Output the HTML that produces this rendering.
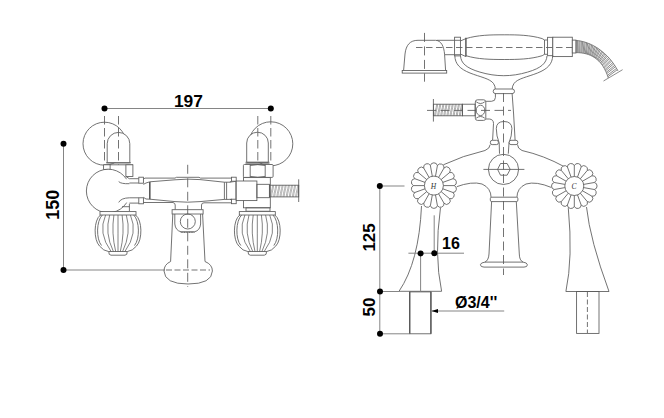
<!DOCTYPE html>
<html><head><meta charset="utf-8">
<style>
html,body{margin:0;padding:0;background:#fff;width:664px;height:418px;overflow:hidden}
svg{display:block}
text{font-family:"Liberation Sans",sans-serif;font-weight:bold;fill:#000}
</style></head><body>
<svg width="664" height="418" viewBox="0 0 664 418">
<defs>
<g id="dot"><circle r="3" fill="#000"/></g>
</defs>
<!-- ================= LEFT DRAWING ================= -->
<g id="left" fill="none" stroke="#5a5a5a" stroke-width="0.85">
  <!-- dimension 197 -->
  <line x1="104.5" y1="108.5" x2="270.8" y2="108.5" stroke="#858585" stroke-width="1"/>
  <!-- dimension 150 -->
  <line x1="63.5" y1="143.8" x2="63.5" y2="270" stroke="#858585" stroke-width="1"/>
  <line x1="63.5" y1="270" x2="165" y2="270" stroke="#858585" stroke-width="1"/>
  <!-- upper big circles -->
  <circle cx="104.5" cy="143.7" r="21.5"/>
  <circle cx="270.8" cy="143.8" r="22"/>
  <!-- domes -->
  <path d="M107.2,162.8 V143.7 A11.3,11.3 0 0 1 129.8,143.7 V162.8 Z" fill="#fff"/>
  <path d="M246.7,162.3 V143 A10.8,10.8 0 0 1 268.3,143 V162.3 Z" fill="#fff"/>
  <path d="M106,162.8 H131 M105,164.8 H133 M245.5,162.3 H269.5 M245.5,163.8 H269.5"/>
  <!-- nuts -->
  <rect x="103.6" y="164.8" width="6.5" height="4.6" fill="#fff"/>
  <rect x="125.9" y="164.8" width="7" height="11.7" fill="#fff"/>
  <rect x="243.4" y="164.5" width="29.7" height="12.9" rx="1" fill="#fff"/>
  <path d="M250.2,164.5 V177.4 M265.2,164.5 V177.4 M250.2,165.5 Q257.7,163.8 265.2,165.5 M250.2,176.4 Q257.7,178.1 265.2,176.4"/>
  <!-- dashed verticals -->
  <g stroke-dasharray="8.5 3.5">
    <line x1="104.5" y1="116" x2="104.5" y2="164.5"/>
    <line x1="118.5" y1="116" x2="118.5" y2="164.5"/>
    <line x1="257.8" y1="116" x2="257.8" y2="164.5"/>
    <line x1="270.8" y1="116" x2="270.8" y2="164.5"/>
  </g>
  <!-- left ball -->
  <circle cx="108.2" cy="191" r="21.8" fill="#fff"/>
  <rect x="125" y="179.2" width="6" height="23.4" fill="#fff" stroke="none"/>
  <!-- pipe connectors left -->
  <path d="M125.9,176.5 L129.4,178.7 H138.8 M129.4,183 H138.8" />
  <path d="M118.7,181.6 Q121,184 129.4,183.7" />
  <path d="M118.7,202.4 Q121,198 129.4,197.8 H138.8 M129.4,203.1 H138.8" />
  <path d="M129.4,203.8 V211 M122,206.7 H129.4"/>
  <rect x="138.8" y="177.2" width="4.6" height="6" fill="#fff"/>
  <rect x="138.8" y="197.8" width="4.6" height="6" fill="#fff"/>
  <!-- body -->
  <path d="M143.4,179.1 L145,178.1 H175 L176.5,177.3 H199 L200.5,178.1 H231.5"/>
  <path d="M143.4,184.4 L146,183 L149.8,181.8 L175,179.8 Q188,178.6 200,179.6 L224.4,182.2 H229.6 L231.6,181.2 M229.6,182.2 L236,181.3"/>
  <path d="M143.4,197.3 L146,199 L149.8,199.2 L175,201.6 Q188,202.8 200,201.6 L224.4,199.4 H229.6 L231.6,199.2 M229.6,199.4 L236,200.4"/>
  <path d="M143.4,202.5 H173 Q175.2,203 175.2,205 V209.7 M201.5,209.7 V205 Q201.5,202.9 204,202.8 H231.5"/>
  <line x1="149.8" y1="182" x2="149.8" y2="199.2" stroke-width="1.6"/>
  <line x1="224.4" y1="182.2" x2="224.4" y2="199.5"/>
  <line x1="226.6" y1="182.2" x2="226.6" y2="199.5"/>
  <line x1="236.2" y1="181" x2="236.2" y2="200.5" stroke-width="1.4"/>
  <rect x="231.5" y="177.2" width="4.7" height="4" fill="#fff"/>
  <rect x="231.5" y="199.2" width="4.7" height="4.5" fill="#fff"/>
  <!-- right valve block -->
  <rect x="243.5" y="177.6" width="26.8" height="30.2" fill="#fff"/>
  <rect x="236.2" y="181" width="20.7" height="19.6" fill="#fff"/>
  <rect x="256.9" y="184.3" width="12.5" height="13.4"/>
  <rect x="246" y="207.8" width="24" height="3.4"/>
  <!-- hose -->
  <rect x="269.4" y="185.2" width="29.3" height="11.7"/>
  <path d="M270.5,196.9 C270.9,192 272.1,190 272.7,185.2 M271.6,196.9 C272.0,192 273.2,190 273.7,185.2 M273.6,196.9 C274.0,192 275.2,190 275.8,185.2 M274.7,196.9 C275.1,192 276.3,190 276.8,185.2 M276.8,196.9 C277.2,192 278.4,190 279.0,185.2 M277.9,196.9 C278.3,192 279.5,190 280.0,185.2 M279.9,196.9 C280.3,192 281.5,190 282.1,185.2 M281.0,196.9 C281.4,192 282.6,190 283.1,185.2 M283.0,196.9 C283.4,192 284.6,190 285.2,185.2 M284.1,196.9 C284.5,192 285.7,190 286.2,185.2 M286.2,196.9 C286.6,192 287.8,190 288.4,185.2 M287.3,196.9 C287.7,192 288.9,190 289.4,185.2 M289.3,196.9 C289.7,192 290.9,190 291.5,185.2 M290.4,196.9 C290.8,192 292.0,190 292.5,185.2 M292.4,196.9 C292.8,192 294.0,190 294.6,185.2 M293.5,196.9 C293.9,192 295.1,190 295.6,185.2 M295.6,196.9 C296.0,192 297.2,190 297.8,185.2 M296.7,196.9 C297.1,192 298.3,190 298.8,185.2" stroke-width="0.45"/>
  <line x1="298.7" y1="179.3" x2="298.7" y2="202"/>
  <!-- pedestal -->
  <rect x="172.1" y="209.7" width="31" height="4.3" fill="#fff"/>
  <path d="M174.8,214 V224 Q175.5,230.5 181,231.8 H194.5 Q200,230.5 200.6,224 V214"/>
  <path d="M172.8,214 L170.6,261.5 M202.6,214 L205,261.5"/>
  <circle cx="187.8" cy="221.5" r="7.5"/>
  <path d="M180.5,232.2 H195 M182,231.8 V233 M184.5,231.8 V233 M187,231.8 V233 M189.5,231.8 V233 M192,231.8 V233" stroke-width="0.6"/>
  <path d="M170.6,261.5 Q164,264.5 164,271 Q164.5,284 188,284 Q212,284 212.4,271 Q212.4,264.5 205,261.5"/>
  <line x1="166" y1="270" x2="210" y2="270" stroke-dasharray="6 2.5"/>
  <line x1="187.7" y1="164.8" x2="187.7" y2="287" stroke-dasharray="9 4.5"/>
  <!-- knobs -->
  <g id="knobL">
    <path d="M100.5,215 C93.5,220 93.5,240 99.5,246 Q103.5,251 108.5,251.5 H127.5 Q132.5,251 136.5,246 C142.5,240 142.5,220 135.5,215" fill="#fff"/>
    <path d="M102.3,215 C96.3,221 96,239 101.5,245.5 M133.7,215 C139.7,221 140,239 134.5,245.5"/>
    <rect x="100" y="211.6" width="36" height="3.4" fill="#fff"/>
    <path d="M108.8,251.5 Q108.5,255.2 111,255.2 H125 Q127.5,255.2 127.2,251.5"/>
    <path d="M105.6,215 Q97.6,233 111.1,251.5 M109.7,215 Q104.4,233 113.4,251.5 M113.9,215 Q111.2,233 115.7,251.5 M118.0,215 Q118.0,233 118.0,251.5 M122.1,215 Q124.8,233 120.3,251.5 M126.3,215 Q131.6,233 122.6,251.5 M130.4,215 Q138.4,233 124.9,251.5" stroke-width="0.75"/>
  </g>
  <use href="#knobL" transform="translate(139.3,0)"/>
</g>
<!-- dots & text left -->
<circle cx="104.5" cy="108.5" r="3"/>
<circle cx="270.8" cy="108.5" r="3"/>
<circle cx="63.5" cy="143.8" r="3"/>
<circle cx="63.5" cy="270" r="3"/>
<text x="188.4" y="106.9" font-size="17.4" text-anchor="middle">197</text>
<text transform="translate(58.9,204.8) rotate(-90)" font-size="17.8" text-anchor="middle">150</text>

<!-- ================= RIGHT DRAWING ================= -->
<g id="right" fill="none" stroke="#5a5a5a" stroke-width="0.85">
  <!-- showerhead cap -->
  <path d="M403.6,70.5 L405,54 C406,45 410,40.3 418,40.3 H435.5 C441,40.5 444,46 444.6,54.7 L445.6,70.5" fill="#fff"/>
  <rect x="402.2" y="70.5" width="44.5" height="2.6" fill="#fff"/>
  <path d="M436.7,40.3 H454.6 M444.6,54.7 H454.6"/>
  <rect x="454.6" y="37.2" width="5.8" height="18.7" fill="#fff"/>
  <path d="M454.6,40.3 H460.4 M454.6,54.7 H460.4"/>
  <path d="M460.4,41 L465.9,38.6 M460.4,54 L465.9,56.6"/>
  <!-- grip -->
  <path d="M465.9,38.6 C478,35 490,34.8 504.2,34.8 C518,34.8 530,35 542.2,38.6 M465.9,55.7 C478,59.3 490,59.5 504.2,59.5 C518,59.5 530,59.3 542.2,55.7"/>
  <line x1="465.9" y1="37.7" x2="465.9" y2="56.6" stroke-width="1.5"/>
  <path d="M542.2,38.6 L544.5,40 V54.3 L542.2,55.7 M544.5,40 H547.6 M544.5,54.3 H547.6"/>
  <rect x="547.6" y="37.3" width="5.2" height="18.4" fill="#fff"/>
  <rect x="552.8" y="37.2" width="19.5" height="19.4" fill="#fff"/>
  <rect x="572.3" y="40.1" width="3.6" height="12.9" fill="#fff"/>
  <!-- right hose -->
  <path d="M576,40.4 C591,41.5 608,52 618,71 M576,52.6 C590,52.8 602,58 608.3,78 M603.5,81 L622.6,69.7" stroke-width="0.7"/>
  <path d="M576.4,40.4L576.3,52.6 M577.5,40.5L577.4,52.6 M578.9,40.7L578.7,52.7 M580.0,40.9L579.7,52.8 M581.4,41.2L580.9,52.9 M582.6,41.5L581.9,53.0 M584.0,41.8L583.1,53.2 M585.2,42.2L584.1,53.4 M586.6,42.6L585.3,53.7 M587.7,43.1L586.3,53.9 M589.2,43.6L587.4,54.2 M590.3,44.1L588.4,54.5 M591.7,44.8L589.5,54.9 M592.9,45.4L590.4,55.3 M594.3,46.1L591.5,55.8 M595.4,46.8L592.4,56.3 M596.8,47.6L593.4,56.9 M597.9,48.3L594.3,57.4 M599.2,49.2L595.3,58.1 M600.3,50.0L596.1,58.7 M601.7,51.1L597.1,59.5 M602.7,51.9L597.9,60.2 M604.0,53.1L598.8,61.1 M605.1,54.0L599.6,61.8 M606.3,55.2L600.5,62.9 M607.4,56.2L601.2,63.7 M608.6,57.5L602.0,64.9 M609.5,58.6L602.7,65.8 M610.7,60.0L603.5,67.1 M611.6,61.1L604.1,68.2 M612.8,62.6L604.9,69.6 M613.6,63.9L605.5,70.8 M614.7,65.4L606.2,72.3 M615.5,66.7L606.7,73.6 M616.5,68.4L607.4,75.3 M617.3,69.7L607.9,76.7" stroke-width="0.7"/>
  <!-- U handle -->
  <path d="M454.8,55.5 C455,64 460,69 470,73 C480,77 490,78.5 493.5,83.5 Q495.3,86 495.3,89.2"/>
  <path d="M460.5,55.9 C461,63 466,68 479.9,72.1 C488,74.5 496,75.7 503.75,75.7 C511.5,75.7 519.5,74.5 527.6,72.1 C541.5,68 546.5,63 547,55.9"/>
  <path d="M552.7,55.5 C552.5,64 547.5,69 537.5,73 C527.5,77 517.5,78.5 514,83.5 Q512.2,86 512.2,89.2"/>
  <rect x="493.2" y="89" width="21.3" height="4.6" rx="2.3" fill="#fff"/>
  <!-- body upper -->
  <path d="M495.4,93.2 V97.5 Q495.4,101.3 491.5,101.3 H485.8"/>
  <path d="M485.8,119 H489.3 Q493.5,119.3 493.5,123.5 L492.6,140.3"/>
  <path d="M512.1,93.2 L513.6,114 L515.1,140.3"/>
  <!-- side outlet -->
  <rect x="475.3" y="99.8" width="10.5" height="20.6" rx="2.2" fill="#fff"/>
  <path d="M476.2,101.8 Q480.5,105.2 484.8,101.8 M476.2,118.2 Q480.5,114.8 484.8,118.2"/>
  <ellipse cx="480.5" cy="110.4" rx="4.3" ry="5.2"/>
  <rect x="462.4" y="104.2" width="12.7" height="11.6"/>
  <rect x="433.4" y="104.2" width="29" height="11.6"/>
  <path d="M434.5,115.8 C434.9,111 436.1,109 436.7,104.2 M435.6,115.8 C436.0,111 437.2,109 437.7,104.2 M437.6,115.8 C438.0,111 439.2,109 439.8,104.2 M438.7,115.8 C439.1,111 440.3,109 440.8,104.2 M440.7,115.8 C441.1,111 442.3,109 442.9,104.2 M441.8,115.8 C442.2,111 443.4,109 443.9,104.2 M443.8,115.8 C444.2,111 445.4,109 446.0,104.2 M444.9,115.8 C445.3,111 446.5,109 447.0,104.2 M446.9,115.8 C447.3,111 448.5,109 449.1,104.2 M448.0,115.8 C448.4,111 449.6,109 450.1,104.2 M450.0,115.8 C450.4,111 451.6,109 452.2,104.2 M451.1,115.8 C451.5,111 452.7,109 453.2,104.2 M453.1,115.8 C453.5,111 454.7,109 455.3,104.2 M454.2,115.8 C454.6,111 455.8,109 456.3,104.2 M456.2,115.8 C456.6,111 457.8,109 458.4,104.2 M457.3,115.8 C457.7,111 458.9,109 459.4,104.2 M459.3,115.8 C459.7,111 460.9,109 461.5,104.2 M460.4,115.8 C460.8,111 462.0,109 462.5,104.2" stroke-width="0.5"/>
  <line x1="433.4" y1="99" x2="433.4" y2="121.6"/>
  <!-- lever -->
  <path d="M499.5,153.7 L499.2,143 Q496.3,136 496.3,128.5 Q496.5,121.5 504,121.5 Q511.7,121.5 511.9,128.5 Q511.9,136 509,143 L508.3,153.7"/>
  <!-- feet -->
  <rect x="490.4" y="140.3" width="8" height="4.3" rx="1.8" fill="#fff"/>
  <rect x="509.2" y="140.3" width="8.6" height="4.3" rx="1.8" fill="#fff"/>
  <!-- body spread -->
  <path d="M490.2,144.6 Q490,148.5 485,150.5 Q463,155.5 442.6,165.1"/>
  <path d="M517.5,144.6 Q517.5,148.5 522,150.5 Q544,155.5 564.3,166.7"/>
  <circle cx="503.5" cy="169.4" r="15.1"/>
  <path d="M497.6,169.4 L500.5,163.5 H507.1 L510.2,169.4 L507.1,175.2 H500.5 Z"/>
  <line x1="483.4" y1="169.4" x2="524.4" y2="169.4"/>
  <path d="M456,186.9 Q472,181 482,184 Q491,188 491.1,197.5"/>
  <path d="M551.7,187.6 Q536,181 526,184 Q517,188 516.9,197.5"/>
  <!-- spout -->
  <rect x="490.3" y="197.2" width="27.6" height="4.4" rx="1.5" fill="#fff"/>
  <path d="M491.6,201.6 L489,254 Q488.6,260.3 485,262.1 Q480.6,262.6 480.4,264.8 Q480.6,267.1 484,267.1 H524 Q527.4,267.1 527.4,264.8 Q527.2,262.6 523,262.1 Q519.4,260.3 519.3,254 L516.3,201.6"/>
  <path d="M485,262.1 H523"/>
  <!-- legs -->
  <path d="M421.5,206 Q419,262 399,291.3 H441.6 Q434,255 440.5,207.5"/>
  <path d="M568.3,208 Q573,258 565.9,291.5 H609 Q590,240 586.5,207"/>
  <rect x="409.7" y="291.9" width="21.2" height="41.9"/>
  <path d="M430.9,291.7 V333.8 M409.7,291.7 V333.8" stroke-width="1.4"/>
  <rect x="576.6" y="291.5" width="22.4" height="41.9"/>
  <line x1="587.4" y1="292" x2="587.4" y2="333" stroke-dasharray="5 2.5"/>
  <!-- rosettes -->
  <circle cx="433.9" cy="185.6" r="23" fill="#fff" stroke="none"/>
  <circle cx="574.3" cy="186" r="23" fill="#fff" stroke="none"/>
  <path d="M443.4,185.6L454.2,185.6 M442.8,188.8L453.0,192.5 M441.2,191.7L449.5,198.6 M438.6,193.8L444.0,203.2 M435.5,195.0L437.4,205.6 M432.3,195.0L430.4,205.6 M429.1,193.8L423.8,203.2 M426.6,191.7L418.3,198.6 M425.0,188.8L414.8,192.5 M424.4,185.6L413.6,185.6 M425.0,182.4L414.8,178.7 M426.6,179.5L418.3,172.6 M429.1,177.4L423.7,168.0 M432.3,176.2L430.4,165.6 M435.5,176.2L437.4,165.6 M438.6,177.4L444.0,168.0 M441.2,179.5L449.5,172.6 M442.8,182.4L453.0,178.7 M454.2,185.6A3.59,3.59 0 0 1 453.0,192.5A3.59,3.59 0 0 1 449.5,198.6A3.59,3.59 0 0 1 444.0,203.2A3.59,3.59 0 0 1 437.4,205.6A3.59,3.59 0 0 1 430.4,205.6A3.59,3.59 0 0 1 423.8,203.2A3.59,3.59 0 0 1 418.3,198.6A3.59,3.59 0 0 1 414.8,192.5A3.59,3.59 0 0 1 413.6,185.6A3.59,3.59 0 0 1 414.8,178.7A3.59,3.59 0 0 1 418.3,172.6A3.59,3.59 0 0 1 423.7,168.0A3.59,3.59 0 0 1 430.4,165.6A3.59,3.59 0 0 1 437.4,165.6A3.59,3.59 0 0 1 444.0,168.0A3.59,3.59 0 0 1 449.5,172.6A3.59,3.59 0 0 1 453.0,178.7A3.59,3.59 0 0 1 454.2,185.6Z" />
  <circle cx="433.9" cy="185.6" r="9.5"/>
  <path d="M583.7,184.4L594.3,182.5 M583.7,187.6L594.3,189.5 M582.5,190.8L591.9,196.2 M580.4,193.3L587.3,201.6 M577.5,194.9L581.2,205.1 M574.3,195.5L574.3,206.3 M571.1,194.9L567.4,205.1 M568.2,193.3L561.3,201.6 M566.1,190.8L556.7,196.2 M564.9,187.6L554.3,189.5 M564.9,184.4L554.3,182.5 M566.1,181.2L556.7,175.8 M568.2,178.7L561.3,170.4 M571.1,177.1L567.4,166.9 M574.3,176.5L574.3,165.7 M577.5,177.1L581.2,166.9 M580.4,178.7L587.3,170.4 M582.5,181.2L591.9,175.8 M594.3,182.5A3.59,3.59 0 0 1 594.3,189.5A3.59,3.59 0 0 1 591.9,196.2A3.59,3.59 0 0 1 587.3,201.6A3.59,3.59 0 0 1 581.2,205.1A3.59,3.59 0 0 1 574.3,206.3A3.59,3.59 0 0 1 567.4,205.1A3.59,3.59 0 0 1 561.3,201.6A3.59,3.59 0 0 1 556.7,196.2A3.59,3.59 0 0 1 554.3,189.5A3.59,3.59 0 0 1 554.3,182.5A3.59,3.59 0 0 1 556.7,175.8A3.59,3.59 0 0 1 561.3,170.4A3.59,3.59 0 0 1 567.4,166.9A3.59,3.59 0 0 1 574.3,165.7A3.59,3.59 0 0 1 581.2,166.9A3.59,3.59 0 0 1 587.3,170.4A3.59,3.59 0 0 1 591.9,175.8A3.59,3.59 0 0 1 594.3,182.5Z" />
  <circle cx="574.3" cy="186" r="9.5"/>
  <!-- dashed axes -->
  <g stroke-dasharray="9 4.5">
    <line x1="424.5" y1="32.9" x2="424.5" y2="81.7"/>
    <line x1="416" y1="47.5" x2="575" y2="47.5" stroke-dasharray="6.5 3.5"/>
    <line x1="427" y1="110.4" x2="511" y2="110.4"/>
    <line x1="503.5" y1="93" x2="503.5" y2="275"/>
  </g>
  <!-- dimension lines -->
  <g stroke="#858585" stroke-width="1">
    <path d="M379.8,186 V333.8 M379.8,186 H404.5 M380,291.5 H399 M380,333.8 H409.5"/>
    <path d="M408.4,253.2 H464 M420.6,253.2 V291.5 M434.2,215.3 V253.2"/>
    <path d="M432,311 H504.2"/>
  </g>
  <path d="M431.5,311 L438,309 V313 Z" fill="#000" stroke="none"/>
</g>
<circle cx="379.8" cy="186" r="3"/>
<circle cx="380" cy="291.5" r="3"/>
<circle cx="380" cy="333.8" r="3"/>
<circle cx="420.6" cy="253.4" r="3"/>
<circle cx="434.3" cy="253.2" r="3"/>
<text transform="translate(375.3,237.4) rotate(-90)" font-size="17" text-anchor="middle">125</text>
<text transform="translate(375.3,307) rotate(-90)" font-size="17" text-anchor="middle">50</text>
<text x="442" y="249" font-size="16">16</text>
<text x="455" y="308" font-size="16">Ø3/4''</text>
<text x="433.5" y="188.5" font-size="7.5" text-anchor="middle" style="font-family:'Liberation Serif',serif;font-style:italic;font-weight:normal;fill:#333">H</text>
<text x="574" y="189" font-size="7.5" text-anchor="middle" style="font-family:'Liberation Serif',serif;font-style:italic;font-weight:normal;fill:#333">C</text>
</svg>
</body></html>
